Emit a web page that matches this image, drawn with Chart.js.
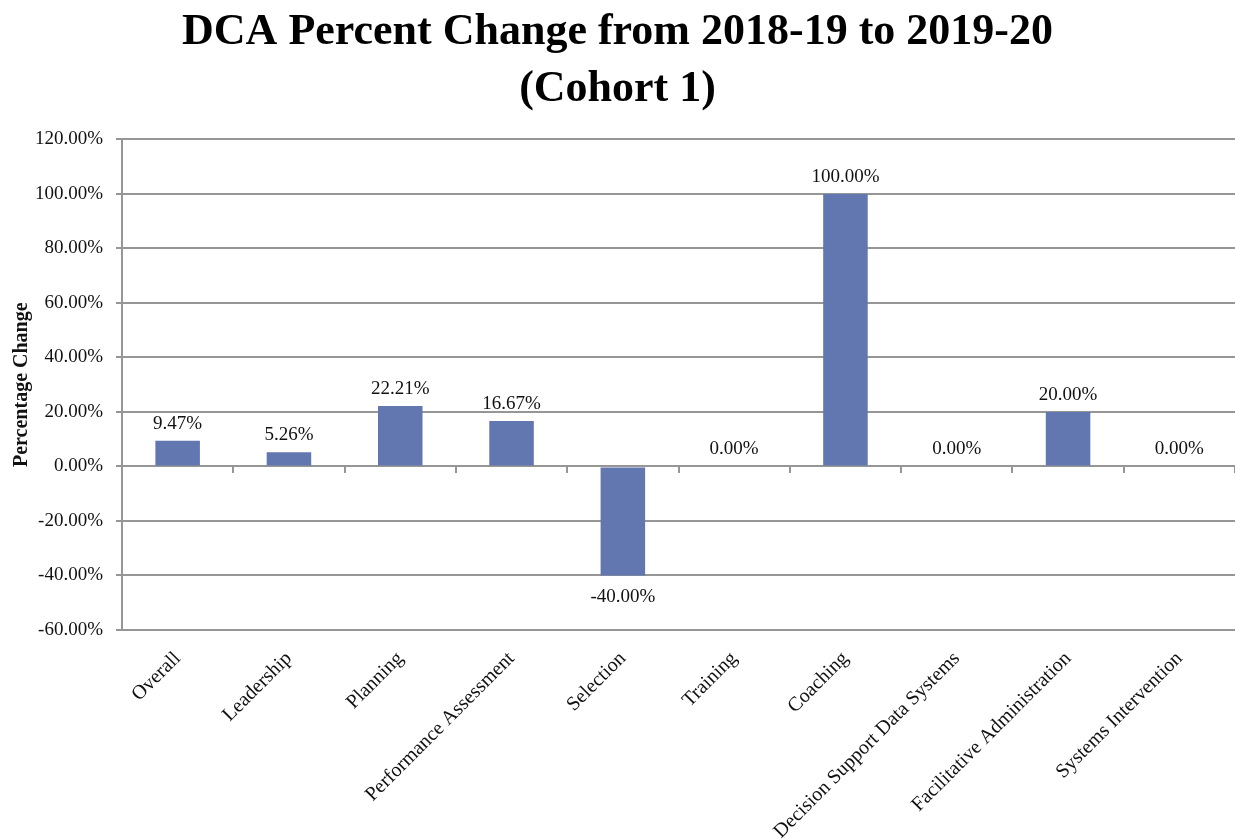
<!DOCTYPE html>
<html>
<head>
<meta charset="utf-8">
<script src="https://cdn.jsdelivr.net/npm/chart.js@4"></script>
<style>
  html, body { margin: 0; padding: 0; background: #ffffff; }
  #wrap { width: 1235px; height: 840px; position: relative; }
</style>
</head>
<body>
<div id="wrap"><canvas id="chart"></canvas></div>
<script>
// Domain categories and their percent change between the two school years
const categories = [
  'Overall',
  'Leadership',
  'Planning',
  'Performance Assessment',
  'Selection',
  'Training',
  'Coaching',
  'Decision Support Data Systems',
  'Facilitative Administration',
  'Systems Intervention'
];
const percentChange = [9.47, 5.26, 22.21, 16.67, -40.00, 0.00, 100.00, 0.00, 20.00, 0.00];
const yTickValues = [-60, -40, -20, 0, 20, 40, 60, 80, 100, 120];
const titleLines = ['DCA Percent Change from 2018-19 to 2019-20', '(Cohort 1)'];
const yAxisTitle = 'Percentage Change';

const SERIF = '"Liberation Serif", "Times New Roman", serif';
const GRID = '#969696';
const BAR = '#6276AF';
const TEXT = '#111111';

Chart.defaults.font.family = SERIF;
Chart.defaults.color = TEXT;

const fmtPct = v => v.toFixed(2) + '%';

// Value labels: above positive / zero bars, below negative bars
const valueLabels = {
  id: 'valueLabels',
  afterDatasetsDraw(chart) {
    const ctx = chart.ctx;
    const meta = chart.getDatasetMeta(0);
    ctx.save();
    ctx.font = '19px ' + SERIF;
    ctx.fillStyle = TEXT;
    ctx.textAlign = 'center';
    meta.data.forEach((bar, i) => {
      const v = percentChange[i];
      if (v < 0) {
        ctx.textBaseline = 'top';
        ctx.fillText(fmtPct(v), bar.x, bar.y + 12);
      } else {
        ctx.textBaseline = 'alphabetic';
        ctx.fillText(fmtPct(v), bar.x, bar.y - 12);
      }
    });
    ctx.restore();
  }
};

new Chart(document.getElementById('chart'), {
  type: 'bar',
  data: {
    labels: categories,
    datasets: [{
      label: yAxisTitle,
      data: percentChange,
      backgroundColor: BAR,
      borderWidth: 0,
      barPercentage: 0.4,
      categoryPercentage: 1.0
    }]
  },
  options: {
    responsive: true,
    maintainAspectRatio: false,
    animation: false,
    layout: { padding: 0 },
    plugins: {
      legend: { display: false },
      tooltip: { enabled: false },
      title: {
        display: true,
        text: titleLines,
        color: '#000000',
        font: { family: SERIF, size: 44, weight: 'bold', lineHeight: 1.3 },
        padding: { top: 4, bottom: 21 }
      }
    },
    scales: {
      x: {
        type: 'category',
        position: 'bottom',
        offset: true,
        grid: { display: false, drawTicks: false, offset: true },
        border: { display: false },
        ticks: {
          autoSkip: false,
          maxRotation: 45,
          minRotation: 45,
          padding: 17,
          color: TEXT,
          font: { family: SERIF, size: 20 }
        },
        afterFit(scale) { scale.height = 210; }
      },
      // Horizontal axis line crossing at zero, with tick marks between categories
      xZero: {
        type: 'category',
        axis: 'x',
        position: { y: 0 },
        offset: true,
        grid: {
          display: true,
          drawOnChartArea: false,
          drawTicks: true,
          tickLength: 6,
          offset: true,
          color: GRID,
          lineWidth: 2
        },
        border: { display: true, color: GRID, width: 2 },
        ticks: { display: false }
      },
      y: {
        min: -60,
        max: 120,
        afterBuildTicks(scale) {
          scale.ticks = yTickValues.map(v => ({ value: v }));
        },
        grid: {
          color: GRID,
          lineWidth: 2,
          drawTicks: true,
          tickLength: 6
        },
        border: { display: true, color: GRID, width: 2 },
        ticks: {
          padding: 13,
          color: TEXT,
          font: { family: SERIF, size: 19 },
          callback: v => fmtPct(v)
        },
        title: {
          display: true,
          text: yAxisTitle,
          color: TEXT,
          font: { family: SERIF, size: 20, weight: 'bold' },
          padding: { top: 10, bottom: 0 }
        },
        afterFit(scale) { scale.width = 122; }
      }
    }
  },
  plugins: [valueLabels]
});
</script>
</body>
</html>
